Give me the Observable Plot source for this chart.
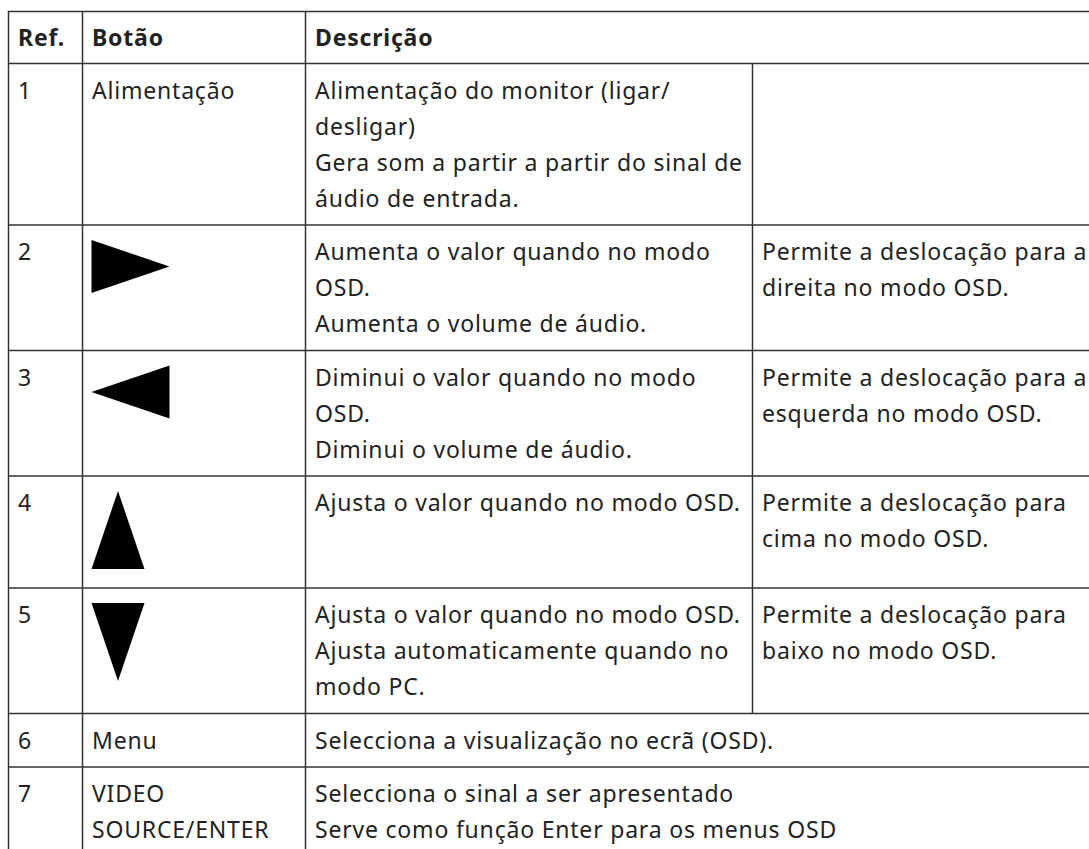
<!DOCTYPE html>
<html>
<head>
<meta charset="utf-8">
<script src="https://cdn.jsdelivr.net/npm/d3@7"></script>
<script src="https://cdn.jsdelivr.net/npm/@observablehq/plot@0.6"></script>
<style>
  html, body { margin: 0; padding: 0; background: #fff; }
  #chart svg { display: block; }
</style>
</head>
<body>
<div id="chart"></div>
<script>
// ---- Table content ----
const headers = ["Ref.", "Botão", "Descrição"];
const refs = ["1", "2", "3", "4", "5", "6", "7"];
const buttonLabels = [["Alimentação"], [], [], [], [], ["Menu"], ["VIDEO", "SOURCE/ENTER"]];
const buttonIcons = [null, "right", "left", "up", "down", null, null];
const descriptions = [
  ["Alimentação do monitor (ligar/", "desligar)", "Gera som a partir a partir do sinal de", "áudio de entrada."],
  ["Aumenta o valor quando no modo", "OSD.", "Aumenta o volume de áudio."],
  ["Diminui o valor quando no modo", "OSD.", "Diminui o volume de áudio."],
  ["Ajusta o valor quando no modo OSD."],
  ["Ajusta o valor quando no modo OSD.", "Ajusta automaticamente quando no", "modo PC."],
  ["Selecciona a visualização no ecrã (OSD)."],
  ["Selecciona o sinal a ser apresentado", "Serve como função Enter para os menus OSD"]
];
// null = description spans the last two columns
const navigation = [
  [],
  ["Permite a deslocação para a", "direita no modo OSD."],
  ["Permite a deslocação para a", "esquerda no modo OSD."],
  ["Permite a deslocação para", "cima no modo OSD."],
  ["Permite a deslocação para", "baixo no modo OSD."],
  null,
  null
];

// ---- Layout ----
const W = 1089, H = 849;
const colX = [8, 82, 305, 752];
const tableTop = 11, headerH = 52;
const lineH = 36, cellPadY = 17.5, padX = 9.5, baseOff = 35;
const iconLong = 78, iconShort = 53, iconPad = 15;
const fontSize = 23;
const lineColor = "#333", textColor = "#222";

// row tops
const rowTops = [];
let yy = tableTop + headerH;
refs.forEach((r, i) => {
  rowTops.push(yy);
  const nLines = Math.max(1, buttonLabels[i].length, descriptions[i].length, (navigation[i] || []).length);
  let h = nLines * lineH + cellPadY;
  if (buttonIcons[i]) h = Math.max(h, iconLong + 2 * iconPad + 4);
  yy += h;
});
const rowBottoms = rowTops.slice(1).concat([yy]);

const hLines = [tableTop, tableTop + headerH, ...rowTops.slice(1), yy];
const vLines = [
  {x: colX[0], y1: tableTop, y2: H + 5},
  {x: colX[1], y1: tableTop, y2: H + 5},
  {x: colX[2], y1: tableTop, y2: H + 5}
];
navigation.forEach((n, i) => {
  if (n) vLines.push({x: colX[3], y1: rowTops[i], y2: rowBottoms[i]});
});

const headerText = headers.map((t, j) => ({x: colX[j] + padX, y: tableTop + headerH / 2 + 8, text: t}));

const bodyText = [];
refs.forEach((r, i) => {
  const top = rowTops[i];
  const push = (lines, col) => lines.forEach((t, k) =>
    bodyText.push({x: colX[col] + padX, y: top + baseOff + k * lineH, text: t}));
  push([r], 0);
  push(buttonLabels[i], 1);
  push(descriptions[i], 2);
  if (navigation[i]) push(navigation[i], 3);
});

// triangle glyph symbols
const a = iconLong / 2, b = iconShort / 2;
const tri = (p) => ({draw(ctx) { ctx.moveTo(p[0][0], p[0][1]); ctx.lineTo(p[1][0], p[1][1]); ctx.lineTo(p[2][0], p[2][1]); ctx.closePath(); }});
const symbols = {
  right: tri([[-a, -b], [a, 0], [-a, b]]),
  left: tri([[a, -b], [-a, 0], [a, b]]),
  up: tri([[0, -a], [b, a], [-b, a]]),
  down: tri([[-b, -a], [b, -a], [0, a]])
};
const icons = [];
buttonIcons.forEach((s, i) => {
  if (!s) return;
  const horiz = s === "right" || s === "left";
  const w = horiz ? iconLong : iconShort, h = horiz ? iconShort : iconLong;
  icons.push({name: s, x: colX[1] + 9 + w / 2, y: rowTops[i] + iconPad + h / 2});
});

const chart = Plot.plot({
  width: W,
  height: H,
  margin: 0,
  x: {type: "identity", axis: null},
  y: {type: "identity", axis: null},
  style: {fontFamily: "'Noto Sans', sans-serif", letterSpacing: "0.8px", background: "#fff"},
  marks: [
    Plot.ruleY(hLines, {y: d => d, x1: colX[0], x2: W + 5, stroke: lineColor, strokeWidth: 1.5}),
    Plot.ruleX(vLines, {x: "x", y1: "y1", y2: "y2", stroke: lineColor, strokeWidth: 1.5}),
    Plot.text(headerText, {x: "x", y: "y", text: "text", textAnchor: "start", lineAnchor: "bottom",
      fontSize, fontWeight: "bold", fill: textColor}),
    Plot.text(bodyText, {x: "x", y: "y", text: "text", textAnchor: "start", lineAnchor: "bottom",
      fontSize, fill: textColor}),
    ...Object.keys(symbols).map(k =>
      Plot.dot(icons.filter(d => d.name === k), {x: "x", y: "y", symbol: symbols[k], r: 10, fill: "#000", stroke: "none"}))
  ]
});
document.getElementById("chart").append(chart);
</script>
</body>
</html>
